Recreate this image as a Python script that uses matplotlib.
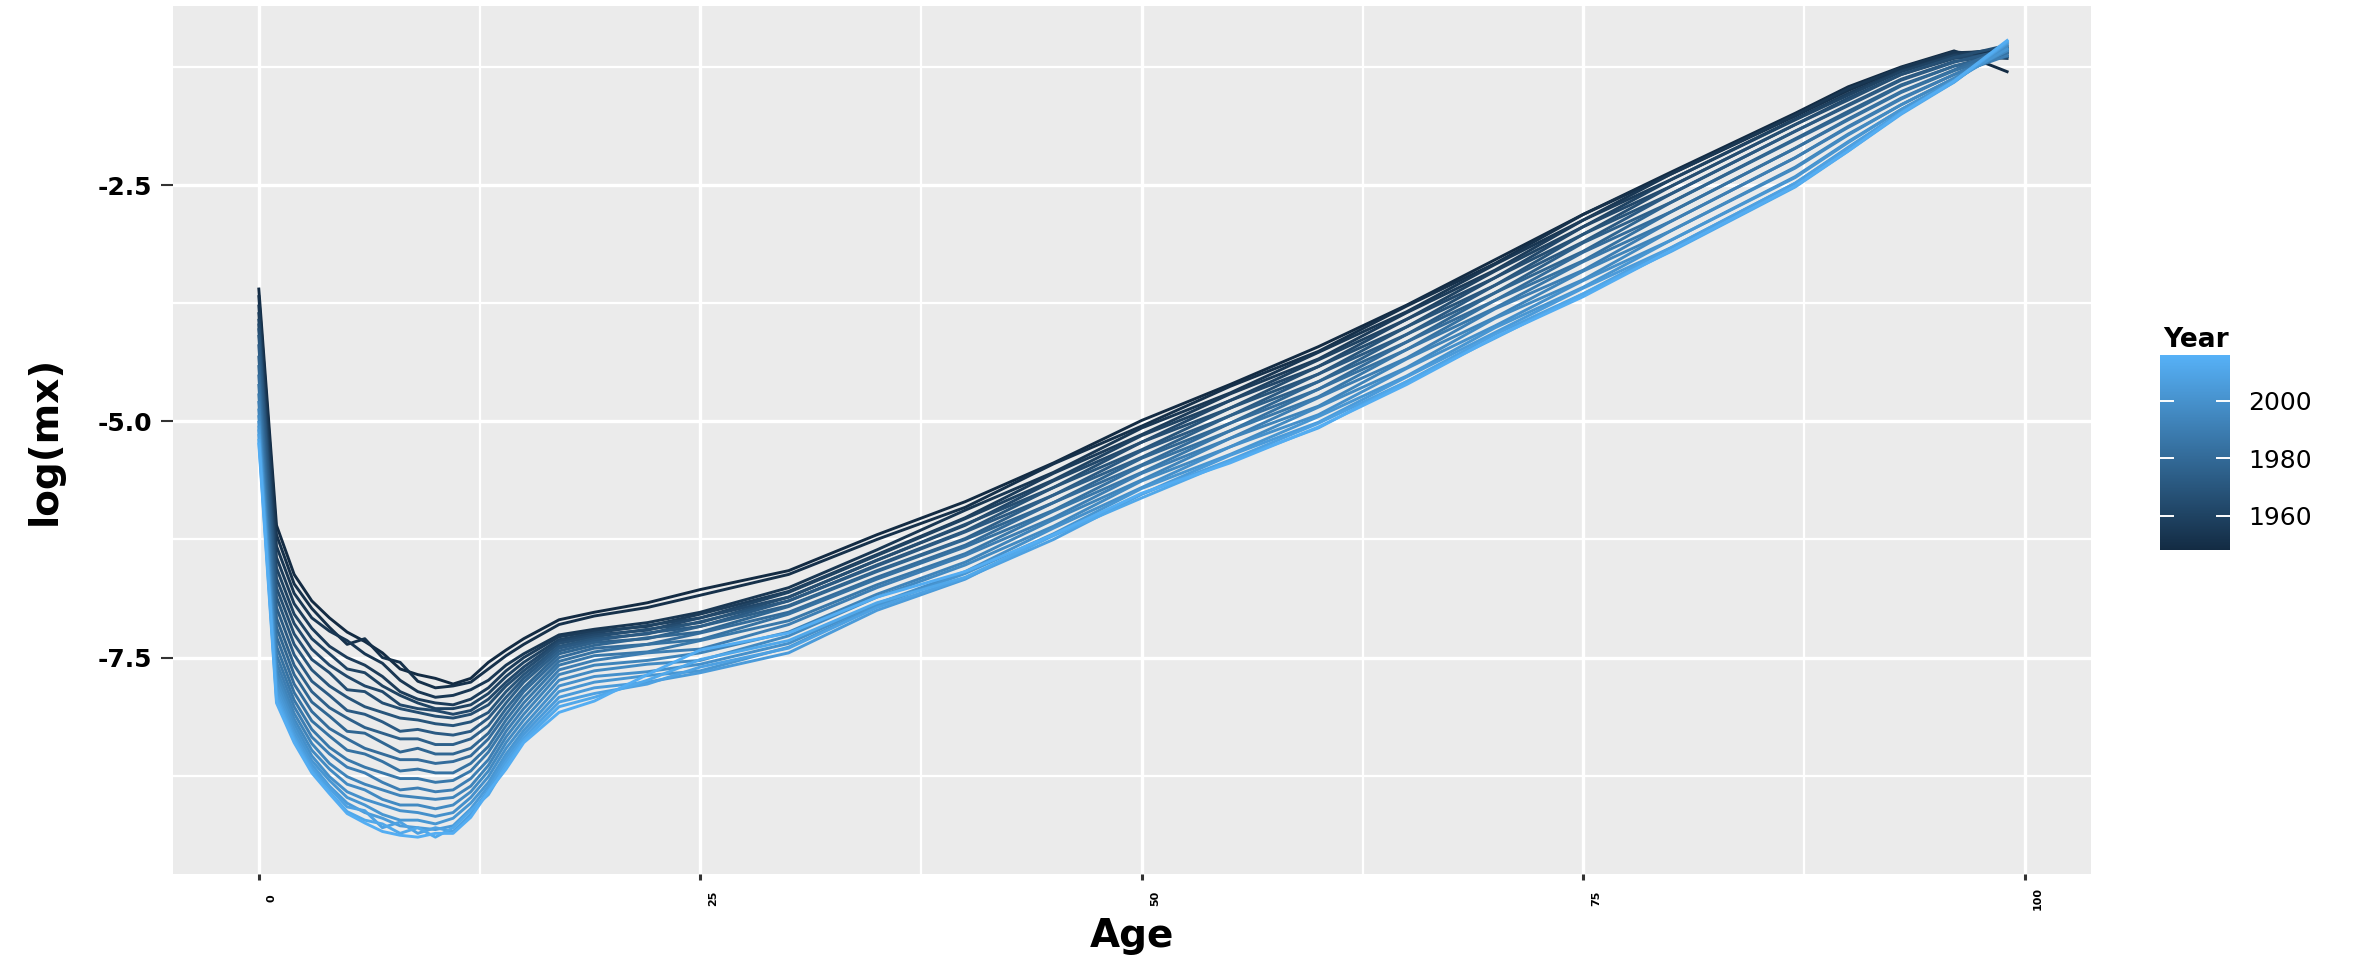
import numpy as np
import matplotlib
matplotlib.use("Agg")
import matplotlib.pyplot as plt
from matplotlib.colors import LinearSegmentedColormap, Normalize
from matplotlib import transforms
import matplotlib.cm as cm

# years shown (one curve each), ages sampled along each curve
years = [1948, 1951, 1954, 1957, 1960, 1963, 1966, 1969, 1972, 1975, 1978, 1981,
         1984, 1987, 1990, 1993, 1996, 1999, 2002, 2005, 2008, 2011, 2014]
ages = [0, 1, 2, 3, 4, 5, 6, 7, 8, 9, 10, 11, 12, 13, 14, 15, 17, 19,
        22, 25, 30, 35, 40, 45, 50, 55, 60, 65, 70, 75, 80, 87, 90, 93, 96, 99]

# log(mx): one row per age, one column per year
log_mx = [
    [-3.60, -3.68, -3.78, -3.86, -3.93, -3.98, -4.03, -4.10, -4.20, -4.32, -4.42, -4.52, -4.62, -4.72, -4.80, -4.88, -4.95, -5.01, -5.06, -5.10, -5.15, -5.20, -5.24],
    [-6.10, -6.20, -6.32, -6.44, -6.55, -6.66, -6.76, -6.86, -6.97, -7.08, -7.18, -7.28, -7.38, -7.47, -7.55, -7.62, -7.68, -7.74, -7.80, -7.85, -7.90, -7.94, -7.98],
    [-6.62, -6.72, -6.82, -6.93, -7.04, -7.14, -7.25, -7.36, -7.47, -7.58, -7.68, -7.78, -7.87, -7.95, -8.02, -8.09, -8.15, -8.20, -8.25, -8.30, -8.34, -8.37, -8.40],
    [-6.90, -6.98, -7.08, -7.19, -7.30, -7.41, -7.52, -7.63, -7.75, -7.86, -7.97, -8.07, -8.17, -8.26, -8.34, -8.41, -8.48, -8.54, -8.59, -8.63, -8.67, -8.70, -8.72],
    [-7.08, -7.18, -7.22, -7.38, -7.46, -7.58, -7.66, -7.80, -7.90, -8.03, -8.12, -8.25, -8.33, -8.45, -8.52, -8.62, -8.68, -8.76, -8.80, -8.86, -8.88, -8.92, -8.94],
    [-7.23, -7.36, -7.32, -7.50, -7.62, -7.70, -7.84, -7.92, -8.06, -8.14, -8.28, -8.36, -8.48, -8.58, -8.66, -8.76, -8.84, -8.92, -8.98, -9.04, -9.08, -9.13, -9.15],
    [-7.33, -7.30, -7.46, -7.58, -7.66, -7.80, -7.86, -8.02, -8.10, -8.24, -8.30, -8.46, -8.52, -8.66, -8.72, -8.84, -8.90, -9.00, -9.06, -9.14, -9.12, -9.22, -9.25],
    [-7.45, -7.50, -7.56, -7.70, -7.80, -7.86, -7.98, -8.08, -8.18, -8.30, -8.40, -8.52, -8.60, -8.72, -8.82, -8.90, -9.00, -9.06, -9.16, -9.20, -9.30, -9.26, -9.34],
    [-7.62, -7.55, -7.74, -7.86, -7.90, -8.00, -8.04, -8.14, -8.28, -8.36, -8.50, -8.58, -8.70, -8.78, -8.90, -8.96, -9.06, -9.12, -9.22, -9.28, -9.24, -9.36, -9.38],
    [-7.68, -7.75, -7.86, -7.94, -7.98, -8.04, -8.08, -8.16, -8.26, -8.36, -8.46, -8.58, -8.68, -8.78, -8.88, -8.98, -9.06, -9.14, -9.22, -9.30, -9.36, -9.30, -9.40],
    [-7.72, -7.82, -7.92, -7.98, -8.04, -8.06, -8.12, -8.20, -8.30, -8.42, -8.52, -8.62, -8.72, -8.82, -8.92, -9.00, -9.10, -9.18, -9.26, -9.32, -9.30, -9.40, -9.36],
    [-7.78, -7.80, -7.90, -8.00, -8.04, -8.10, -8.14, -8.22, -8.32, -8.42, -8.52, -8.60, -8.72, -8.80, -8.90, -8.98, -9.06, -9.14, -9.20, -9.28, -9.34, -9.30, -9.36],
    [-7.72, -7.76, -7.84, -7.94, -8.00, -8.06, -8.10, -8.18, -8.28, -8.36, -8.46, -8.54, -8.62, -8.70, -8.78, -8.86, -8.92, -8.98, -9.04, -9.10, -9.16, -9.12, -9.19],
    [-7.55, -7.62, -7.74, -7.82, -7.88, -7.94, -8.00, -8.08, -8.14, -8.22, -8.30, -8.36, -8.44, -8.50, -8.58, -8.64, -8.70, -8.76, -8.82, -8.86, -8.90, -8.95, -8.92],
    [-7.42, -7.48, -7.58, -7.64, -7.70, -7.76, -7.80, -7.86, -7.92, -7.98, -8.04, -8.10, -8.16, -8.22, -8.28, -8.34, -8.40, -8.46, -8.52, -8.56, -8.60, -8.64, -8.68],
    [-7.30, -7.36, -7.46, -7.50, -7.55, -7.60, -7.64, -7.68, -7.72, -7.76, -7.82, -7.86, -7.92, -7.98, -8.04, -8.10, -8.16, -8.22, -8.27, -8.31, -8.35, -8.38, -8.40],
    [-7.10, -7.15, -7.26, -7.28, -7.31, -7.33, -7.35, -7.38, -7.40, -7.43, -7.46, -7.50, -7.54, -7.58, -7.63, -7.68, -7.74, -7.80, -7.86, -7.92, -7.97, -8.02, -8.08],
    [-7.02, -7.06, -7.20, -7.22, -7.24, -7.26, -7.28, -7.30, -7.32, -7.34, -7.37, -7.40, -7.44, -7.48, -7.53, -7.58, -7.64, -7.70, -7.76, -7.82, -7.88, -7.92, -7.96],
    [-6.92, -6.97, -7.13, -7.17, -7.16, -7.21, -7.20, -7.25, -7.24, -7.30, -7.29, -7.36, -7.36, -7.44, -7.45, -7.53, -7.57, -7.65, -7.69, -7.76, -7.78, -7.74, -7.68],
    [-6.78, -6.84, -7.02, -7.04, -7.08, -7.08, -7.13, -7.12, -7.17, -7.17, -7.23, -7.24, -7.31, -7.32, -7.41, -7.45, -7.53, -7.57, -7.64, -7.66, -7.60, -7.52, -7.42],
    [-6.58, -6.62, -6.76, -6.80, -6.81, -6.86, -6.86, -6.90, -6.90, -6.95, -6.96, -7.02, -7.04, -7.11, -7.15, -7.23, -7.27, -7.35, -7.39, -7.45, -7.40, -7.32, -7.24],
    [-6.20, -6.25, -6.36, -6.41, -6.42, -6.47, -6.47, -6.52, -6.53, -6.58, -6.59, -6.65, -6.67, -6.73, -6.76, -6.83, -6.86, -6.93, -6.95, -7.00, -6.97, -6.92, -6.86],
    [-5.85, -5.91, -5.94, -6.02, -6.03, -6.10, -6.09, -6.16, -6.17, -6.24, -6.25, -6.31, -6.33, -6.40, -6.42, -6.49, -6.52, -6.59, -6.61, -6.67, -6.66, -6.65, -6.59],
    [-5.44, -5.45, -5.54, -5.55, -5.62, -5.63, -5.70, -5.70, -5.78, -5.78, -5.86, -5.86, -5.94, -5.95, -6.02, -6.04, -6.11, -6.13, -6.19, -6.20, -6.25, -6.21, -6.20],
    [-4.99, -5.05, -5.07, -5.14, -5.15, -5.22, -5.22, -5.30, -5.31, -5.38, -5.39, -5.46, -5.47, -5.54, -5.55, -5.62, -5.63, -5.70, -5.71, -5.77, -5.77, -5.81, -5.76],
    [-4.61, -4.63, -4.70, -4.71, -4.78, -4.78, -4.86, -4.86, -4.94, -4.94, -5.02, -5.02, -5.10, -5.10, -5.18, -5.18, -5.27, -5.27, -5.35, -5.36, -5.41, -5.42, -5.44],
    [-4.21, -4.26, -4.27, -4.34, -4.35, -4.42, -4.42, -4.50, -4.50, -4.58, -4.58, -4.66, -4.66, -4.74, -4.75, -4.84, -4.85, -4.93, -4.95, -5.01, -5.02, -5.07, -5.06],
    [-3.77, -3.78, -3.84, -3.85, -3.92, -3.92, -4.00, -4.00, -4.08, -4.08, -4.16, -4.16, -4.24, -4.24, -4.33, -4.34, -4.43, -4.44, -4.52, -4.53, -4.58, -4.58, -4.61],
    [-3.29, -3.33, -3.34, -3.40, -3.41, -3.48, -3.48, -3.56, -3.56, -3.64, -3.64, -3.72, -3.72, -3.80, -3.81, -3.90, -3.91, -3.99, -4.01, -4.06, -4.08, -4.12, -4.11],
    [-2.81, -2.81, -2.87, -2.87, -2.94, -2.94, -3.02, -3.02, -3.10, -3.11, -3.20, -3.21, -3.30, -3.31, -3.40, -3.41, -3.50, -3.51, -3.58, -3.59, -3.65, -3.65, -3.68],
    [-2.36, -2.38, -2.38, -2.44, -2.44, -2.51, -2.51, -2.59, -2.59, -2.68, -2.68, -2.78, -2.78, -2.88, -2.88, -2.98, -2.98, -3.08, -3.08, -3.16, -3.16, -3.20, -3.19],
    [-1.74, -1.77, -1.76, -1.80, -1.81, -1.86, -1.86, -1.93, -1.93, -2.01, -2.02, -2.11, -2.11, -2.21, -2.21, -2.31, -2.32, -2.41, -2.42, -2.48, -2.48, -2.52, -2.51],
    [-1.46, -1.50, -1.48, -1.53, -1.55, -1.58, -1.60, -1.65, -1.66, -1.72, -1.74, -1.80, -1.81, -1.88, -1.89, -1.96, -1.97, -2.04, -2.05, -2.10, -2.11, -2.14, -2.14],
    [-1.25, -1.27, -1.26, -1.29, -1.30, -1.33, -1.33, -1.38, -1.39, -1.44, -1.45, -1.51, -1.52, -1.58, -1.59, -1.65, -1.65, -1.70, -1.70, -1.73, -1.73, -1.75, -1.74],
    [-1.08, -1.10, -1.09, -1.12, -1.13, -1.16, -1.15, -1.19, -1.20, -1.24, -1.24, -1.28, -1.29, -1.33, -1.33, -1.37, -1.37, -1.40, -1.39, -1.41, -1.40, -1.41, -1.40],
    [-1.30, -1.08, -1.14, -1.05, -1.16, -1.10, -1.02, -1.12, -1.06, -1.09, -1.14, -1.04, -1.10, -1.07, -1.13, -1.05, -1.08, -1.02, -1.06, -1.00, -0.99, -0.98, -0.97],
]

year_ticks = [1960, 1980, 2000]
age_ticks = [0, 25, 50, 75, 100]
logmx_ticks = [-2.5, -5.0, -7.5]

plt.rcParams['font.family'] = ['DejaVu Sans']

W, H = 2359, 957
fig = plt.figure(figsize=(W / 100, H / 100), dpi=100)
fig.patch.set_facecolor('white')

# panel placed in pixel terms
left, right, top, bottom = 173, 2091, 6, 874
ax = fig.add_axes([left / W, 1 - bottom / H, (right - left) / W, (bottom - top) / H])
ax.set_facecolor('#EBEBEB')
for s in ax.spines.values():
    s.set_visible(False)

cmap = LinearSegmentedColormap.from_list('gg', ['#132B43', '#56B1F7'])
norm = Normalize(vmin=1948, vmax=2016)

data = np.array(log_mx)
for j, yr in enumerate(years):
    ax.plot(ages, data[:, j], color=cmap(norm(yr)), lw=2.1, zorder=3)

ax.set_xlim(-4.86, 103.75)
ax.set_ylim(-9.79, -0.605)

ax.set_xticks(age_ticks)
ax.set_xticks([12.5, 37.5, 62.5, 87.5], minor=True)
ax.set_yticks(logmx_ticks)
ax.set_yticks([-1.25, -3.75, -6.25, -8.75], minor=True)
ax.grid(which='major', color='white', lw=2.4, zorder=1)
ax.grid(which='minor', color='white', lw=1.6, zorder=1)
ax.set_axisbelow(True)

ax.set_yticklabels(['-2.5', '-5.0', '-7.5'], fontsize=18, fontweight='bold')
ax.tick_params(axis='y', which='major', length=8.6, width=1.5, color='#333333', pad=6.5)
ax.tick_params(axis='x', which='major', length=4.3, width=2.2, color='#333333', pad=13)
ax.tick_params(which='minor', length=0)

ax.set_xticklabels([str(a) for a in age_ticks], fontsize=8, fontweight='bold',
                   rotation=90, va='center', ha='center')
shift = transforms.ScaledTranslation(13 / 100, 0, fig.dpi_scale_trans)
for lab in ax.get_xticklabels():
    lab.set_transform(lab.get_transform() + shift)

fig.text(1132 / W, 1 - 936 / H, 'Age', fontsize=28, fontweight='bold', ha='center', va='center')
fig.text(45 / W, 1 - 440 / H, 'log(mx)', fontsize=28, fontweight='bold', rotation=90,
         ha='center', va='center')

# colour bar legend
cax = fig.add_axes([2160 / W, 1 - 550 / H, 70 / W, 195 / H])
cb = fig.colorbar(cm.ScalarMappable(norm=norm, cmap=cmap), cax=cax)
cb.outline.set_visible(False)
cb.set_ticks(year_ticks)
cb.ax.tick_params(length=0, pad=13, labelsize=18)
tr = transforms.blended_transform_factory(cax.transAxes, cax.transData)
for yv in year_ticks:
    cax.plot([0, 0.19], [yv, yv], color='white', lw=1.4, transform=tr)
    cax.plot([0.81, 1], [yv, yv], color='white', lw=1.4, transform=tr)
fig.text(2163 / W, 1 - 340 / H, 'Year', fontsize=19, fontweight='bold', ha='left', va='center')

fig.savefig('out.png', dpi=100)
